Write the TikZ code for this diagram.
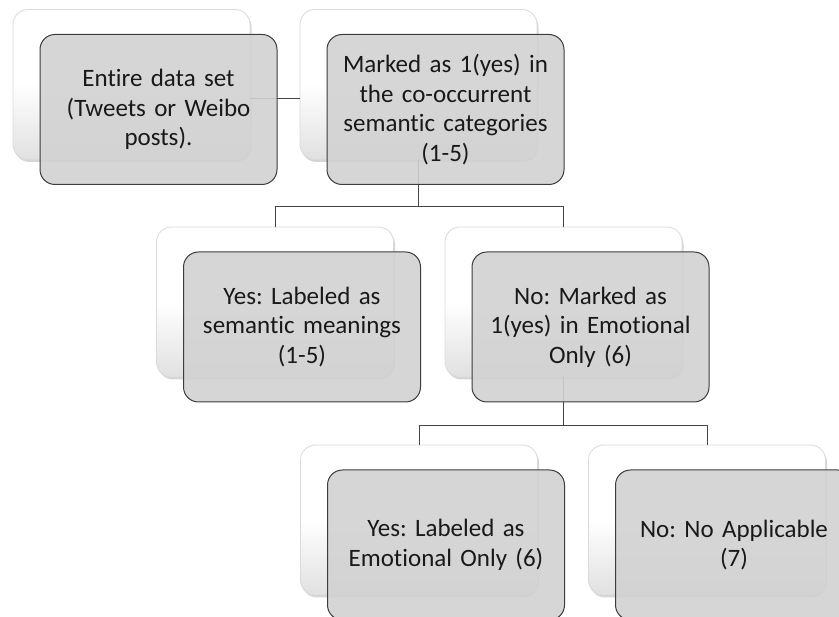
\documentclass[tikz,border=0pt]{standalone}
\usepackage{fontspec}
\setmainfont{Carlito}[Ligatures=NoCommon]
\frenchspacing
\usetikzlibrary{shadows}
\definecolor{boxgray}{RGB}{210,210,210}
\definecolor{edgegray}{RGB}{60,60,60}
\definecolor{linegray}{RGB}{70,70,70}
\definecolor{backedge}{RGB}{218,218,218}
\definecolor{textdark}{RGB}{25,25,25}
\tikzset{
  back/.style={draw=backedge, line width=0.8pt, rounded corners=15pt,
    minimum width=237pt, minimum height=150pt, inner sep=0pt,
    top color=white, bottom color=black!12, middle color=white,
    drop shadow={shadow xshift=1.5pt, shadow yshift=-2.5pt, opacity=0.3, fill=black!55}},
  front/.style={draw=edgegray, line width=1pt, rounded corners=15pt,
    fill=boxgray, fill opacity=0.9, text opacity=1,
    minimum width=237pt, minimum height=150pt, inner sep=0pt,
    text width=234pt, align=center, text=textdark,
    font=\fontsize{25}{29.5}\selectfont},
  link/.style={draw=linegray, line width=1pt}
}
\begin{document}
\begin{tikzpicture}[x=1pt, y=-1pt]
      \useasboundingbox (0,0) rectangle (839,617);
      \clip (0,0) rectangle (839,617);
      \node[back] (aback) at (131.5,84.5) {};
      \node[back] (bback) at (418.5,84.5) {};
      \node[back] (cback) at (275,302) {};
      \node[back] (dback) at (563.5,302) {};
      \node[back] (eback) at (419,520) {};
      \node[back] (fback) at (707,520) {};
      \begin{scope}[link]
        \draw ([yshift=-14pt]aback.east) -- ([yshift=-14pt]bback.west);
        \draw (bback.south) -- ++(0,47) -| (cback.north);
        \draw (bback.south) -- ++(0,47) -| (dback.north);
        \draw (dback.south) -- ++(0,48) -| (eback.north);
        \draw (dback.south) -- ++(0,48) -| (fback.north);
      \end{scope}
      \node[front] (all) at ([shift={(27,25)}]aback.center)
        {Entire data set\\(Tweets or Weibo\\posts).};
      \node[front] (cooc) at ([shift={(27,25)}]bback.center)
        {Marked as 1(yes) in\\the co-occurrent\\semantic categories\\(1-5)};
      \node[front] (sem) at ([shift={(27,25)}]cback.center)
        {Yes: Labeled as\\semantic meanings\\(1-5)};
      \node[front] (emo) at ([shift={(27,25)}]dback.center)
        {No: Marked as\\1(yes) in Emotional\\Only (6)};
      \node[front] (emoonly) at ([shift={(27,25)}]eback.center)
        {Yes: Labeled as\\Emotional Only (6)};
      \node[front] (noapp) at ([shift={(27,25)}]fback.center)
        {No: No Applicable\\(7)};
    \end{tikzpicture}
\end{document}
